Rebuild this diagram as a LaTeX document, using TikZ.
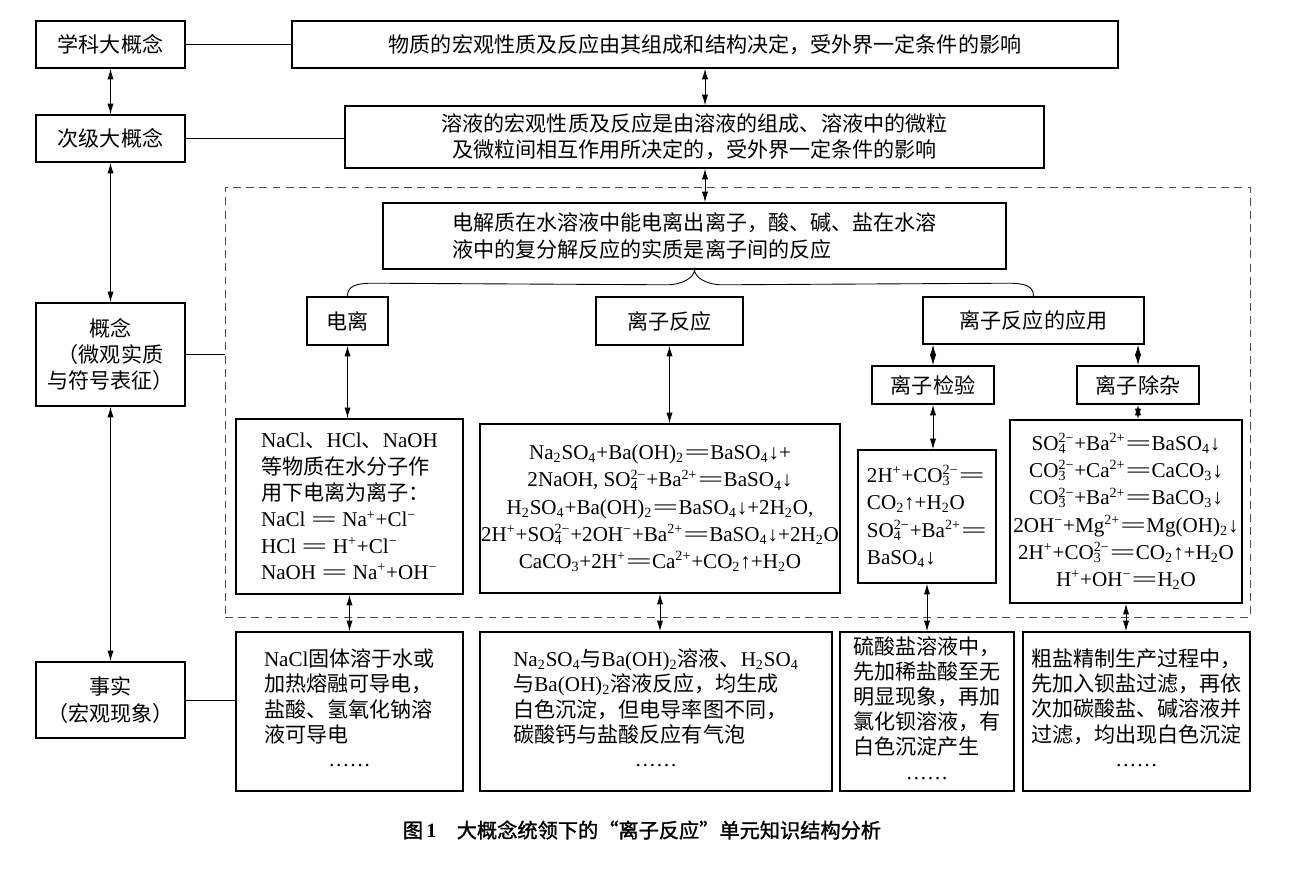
\documentclass[tikz,border=0pt]{standalone}
\usepackage{fontspec}
\setmainfont{Liberation Serif}
\newfontfamily\cjk{Noto Sans CJK SC}
\newfontfamily\cjkbf{Noto Sans CJK SC}[FakeBold=1.5]
\usepackage{tikz}
\usetikzlibrary{calc}
\usetikzlibrary{arrows.meta}

\newcommand{\lat}[1]{{\rmfamily #1}}
\newcommand{\sbs}[1]{\textsubscript{#1}}
\newcommand{\sps}[1]{\textsuperscript{#1}}
\newcommand{\chg}[2]{\rlap{\textsubscript{#1}}\textsuperscript{#2}}
\newcommand{\yld}{\scalebox{2.2}[1]{=}}

\begin{document}
\begin{tikzpicture}[x=0.02cm, y=-0.02cm,
  box/.style 2 args={draw, line width=0.9pt, minimum width=#1*0.02cm, minimum height=#2*0.02cm, inner sep=0pt, font=\cjk\fontsize{12}{15}\selectfont},
  chem/.style={font=\fontsize{12}{15.5}\selectfont},
  fact/.style={font=\cjk\fontsize{12}{14}\selectfont},
  link/.style={line width=0.5pt},
  biarrow/.style={line width=0.5pt, {Latex[length=6pt,width=3.5pt]}-{Latex[length=6pt,width=3.5pt]}}]

\useasboundingbox (0,0) rectangle (1300,872);

\node[box={149}{47}] (xk) at (110.5,44.5) {学科大概念};
\node[box={149}{47}] (cj) at (110.5,138.5) {次级大概念};
\node[box={149}{103}, align=center] (gn) at (110.5,354.5) {概念\\（微观实质\\与符号表征）};
\node[box={149}{76}, align=center] (ss) at (110.5,700) {事实\\（宏观现象）};

\node[box={826}{47}] (wz) at (705,44.5) {物质的宏观性质及反应由其组成和结构决定，受外界一定条件的影响};
\node[box={699}{62}, align=center] (ry) at (694.5,137) {溶液的宏观性质及反应是由溶液的组成、溶液中的微粒\\及微粒间相互作用所决定的，受外界一定条件的影响};

\node[draw=black!70, line width=0.5pt, dash pattern=on 4.5pt off 3pt, minimum width=1025*0.02cm, minimum height=430*0.02cm] (frame) at (737.5,402) {};

\node[box={623}{66}, align=left] (dj) at (694.5,236) {电解质在水溶液中能电离出离子，酸、碱、盐在水溶\\液中的复分解反应的实质是离子间的反应};

\node[box={81}{48}] (dl) at (347.5,321) {电离};
\node[box={147}{48}] (lf) at (669.5,321) {离子反应};
\node[box={221}{47}] (yy) at (1033.5,320.5) {离子反应的应用};
\node[box={122}{38}] (jy) at (933,385) {离子检验};
\node[box={122}{38}] (cz) at (1138,385) {离子除杂};

\node[box={227}{175}, align=left] (e1) at (349.5,506.5) {\lat{NaCl}、\lat{HCl}、\lat{NaOH}\\等物质在水分子作\\用下电离为离子：\\\lat{NaCl \yld{} Na\sps{+}+Cl\sps{−}}\\\lat{HCl \yld{} H\sps{+}+Cl\sps{−}}\\\lat{NaOH \yld{} Na\sps{+}+OH\sps{−}}};
\node[box={360}{169}, align=center, chem] (e2) at (660,508.5) {Na\sbs{2}SO\sbs{4}+Ba(OH)\sbs{2}\yld BaSO\sbs{4}↓+\\2NaOH, SO\chg{4}{2−}+Ba\sps{2+}\yld BaSO\sbs{4}↓\\H\sbs{2}SO\sbs{4}+Ba(OH)\sbs{2}\yld BaSO\sbs{4}↓+2H\sbs{2}O,\\2H\sps{+}+SO\chg{4}{2−}+2OH\sps{−}+Ba\sps{2+}\yld BaSO\sbs{4}↓+2H\sbs{2}O\\CaCO\sbs{3}+2H\sps{+}\yld Ca\sps{2+}+CO\sbs{2}↑+H\sbs{2}O};
\node[box={138}{133}, align=left, chem] (e3) at (927,516.5) {2H\sps{+}+CO\chg{3}{2−}\yld\\CO\sbs{2}↑+H\sbs{2}O\\SO\chg{4}{2−}+Ba\sps{2+}\yld\\BaSO\sbs{4}↓};
\node[box={232}{183}, align=center, chem] (e4) at (1126,511.5) {SO\chg{4}{2−}+Ba\sps{2+}\yld BaSO\sbs{4}↓\\CO\chg{3}{2−}+Ca\sps{2+}\yld CaCO\sbs{3}↓\\CO\chg{3}{2−}+Ba\sps{2+}\yld BaCO\sbs{3}↓\\2OH\sps{−}+Mg\sps{2+}\yld Mg(OH)\sbs{2}↓\\2H\sps{+}+CO\chg{3}{2−}\yld CO\sbs{2}↑+H\sbs{2}O\\H\sps{+}+OH\sps{−}\yld H\sbs{2}O};

\node[box={227}{159}, fact] (f1) at (349.5,711.5) {\begin{tabular}{@{}l@{}}\lat{NaCl}固体溶于水或\\加热熔融可导电，\\盐酸、氢氧化钠溶\\液可导电\\\multicolumn{1}{@{}c@{}}{\lat{……}}\end{tabular}};
\node[box={352}{159}, fact] (f2) at (656,711.5) {\begin{tabular}{@{}l@{}}\lat{Na\sbs{2}SO\sbs{4}}与\lat{Ba(OH)\sbs{2}}溶液、\lat{H\sbs{2}SO\sbs{4}}\\与\lat{Ba(OH)\sbs{2}}溶液反应，均生成\\白色沉淀，但电导率图不同，\\碳酸钙与盐酸反应有气泡\\\multicolumn{1}{@{}c@{}}{\lat{……}}\end{tabular}};
\node[box={174}{159}, fact] (f3) at (927,711.5) {\begin{tabular}{@{}l@{}}硫酸盐溶液中，\\先加稀盐酸至无\\明显现象，再加\\氯化钡溶液，有\\白色沉淀产生\\\multicolumn{1}{@{}c@{}}{\lat{……}}\end{tabular}};
\node[box={227}{159}, fact] (f4) at (1136.5,711.5) {\begin{tabular}{@{}l@{}}粗盐精制生产过程中，\\先加入钡盐过滤，再依\\次加碳酸盐、碱溶液并\\过滤，均出现白色沉淀\\\multicolumn{1}{@{}c@{}}{\lat{……}}\end{tabular}};

\node[font=\cjkbf\fontsize{11.5}{14}\selectfont] (cap) at (642,830) {图\,\lat{\bfseries 1}\quad 大概念统领下的“离子反应”单元知识结构分析};

\draw[biarrow] (xk) -- (cj);
\draw[biarrow] (cj) -- (gn);
\draw[biarrow] (gn) -- (ss);
\draw[link] (xk) -- (wz);
\draw[link] (cj.east) -- (cj.east -| ry.west);
\draw[link] (gn.east) -- (gn.east -| frame.west);
\draw[link] (ss.east) -- (ss.east -| f1.west);
\draw[biarrow] (wz.south) -- (wz.south |- ry.north);
\draw[biarrow] (wz.south |- ry.south) -- (wz.south |- dj.north);

\draw[link] (dl.north) .. controls +(0,-10) and +(-17,0) .. ($(dl.north)+(25,-13)$) -- ($(dj.south)+(-28,15)$) .. controls +(17,0) and +(0,7) .. (dj.south) .. controls +(0,7) and +(-17,0) .. ($(dj.south)+(28,15)$) -- ($(yy.north)+(-25,-13)$) .. controls +(17,0) and +(0,-10) .. (yy.north);

\draw[biarrow] (dl) -- (dl |- e1.north);
\draw[biarrow] (lf) -- (lf |- e2.north);
\draw[biarrow] (jy.north |- yy.south) -- (jy);
\draw[biarrow] (cz.north |- yy.south) -- (cz);
\draw[biarrow] (jy) -- (jy |- e3.north);
\draw[biarrow] (cz) -- (cz |- e4.north);
\draw[biarrow] (e1) -- (e1 |- f1.north);
\draw[biarrow] (e2) -- (e2 |- f2.north);
\draw[biarrow] (e3) -- (e3 |- f3.north);
\draw[biarrow] (e4) -- (e4 |- f4.north);

\end{tikzpicture}
\end{document}
